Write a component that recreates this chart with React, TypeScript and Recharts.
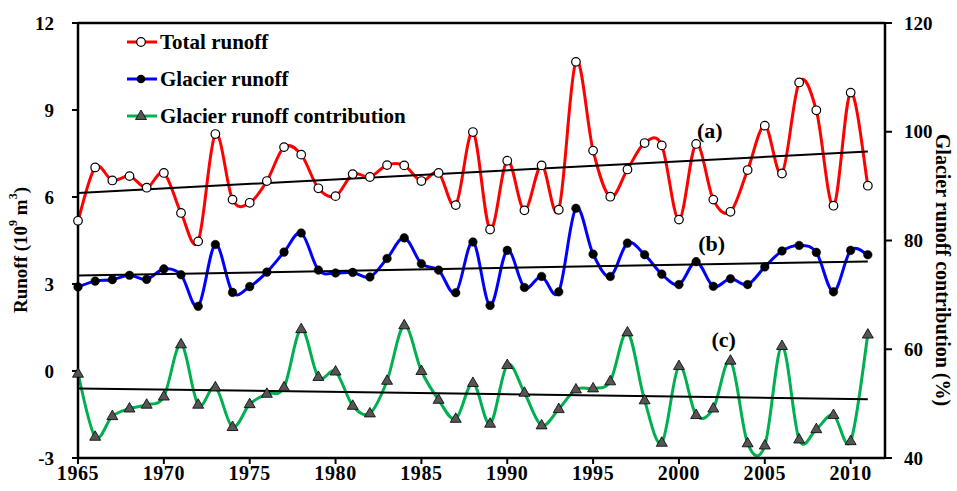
import React from "react";
import {
  LineChart,
  Line,
  XAxis,
  YAxis,
  ReferenceLine,
  ReferenceDot,
  Legend
} from "recharts";

const years = [
  1965, 1966, 1967, 1968, 1969, 1970, 1971, 1972, 1973, 1974, 1975, 1976,
  1977, 1978, 1979, 1980, 1981, 1982, 1983, 1984, 1985, 1986, 1987, 1988,
  1989, 1990, 1991, 1992, 1993, 1994, 1995, 1996, 1997, 1998, 1999, 2000,
  2001, 2002, 2003, 2004, 2005, 2006, 2007, 2008, 2009, 2010, 2011
];

// 10^9 m3
const totalRunoff = [
  5.18, 7.02, 6.57, 6.72, 6.32, 6.83, 5.45, 4.47, 8.17, 5.91, 5.8, 6.55,
  7.72, 7.46, 6.3, 6.03, 6.79, 6.69, 7.1, 7.09, 6.55, 6.83, 5.72, 8.24,
  4.88, 7.25, 5.54, 7.09, 5.56, 10.66, 7.6, 6.01, 6.95, 7.86, 7.78, 5.22,
  7.83, 5.91, 5.49, 6.93, 8.46, 6.81, 9.95, 8.99, 5.7, 9.6, 6.39
];

const glacierRunoff = [
  2.9, 3.1, 3.15, 3.3, 3.16, 3.52, 3.32, 2.23, 4.36, 2.71, 2.91, 3.41,
  4.1, 4.76, 3.48, 3.38, 3.4, 3.24, 3.88, 4.59, 3.7, 3.48, 2.7, 4.45,
  2.26, 4.16, 2.88, 3.26, 2.73, 5.61, 4.03, 3.26, 4.41, 4.01, 3.34, 2.98,
  3.77, 2.92, 3.18, 2.98, 3.59, 4.14, 4.33, 4.09, 2.73, 4.16, 4.01
];

// %
const glacierContribution = [
  55.5, 43.9, 47.7, 49.1, 49.8, 51.3, 60.9, 49.8, 53.0, 45.7, 49.9, 51.8,
  53.0, 63.7, 54.9, 55.9, 49.6, 48.2, 54.2, 64.4, 56.0, 50.7, 47.2, 53.8,
  46.3, 57.1, 52.0, 46.0, 49.0, 52.6, 52.8, 54.1, 63.1, 50.6, 42.8, 56.9,
  47.9, 49.1, 57.9, 42.7, 42.3, 60.6, 43.4, 45.3, 47.9, 43.1, 62.7
];

const trendYears = [1965, 2011];
const totalTrend = [6.14, 7.57];
const glacierTrend = [3.29, 3.78];
const contributionTrend = [52.8, 50.8];

const xTicks = [1965, 1970, 1975, 1980, 1985, 1990, 1995, 2000, 2005, 2010];
const leftTicks = [-3, 0, 3, 6, 9, 12];
const rightTicks = [40, 60, 80, 100, 120];

const seriesNames = ["Total runoff", "Glacier runoff", "Glacier runoff contribution"];

const data = years.map((year, i) => ({
  year,
  total: totalRunoff[i],
  glacier: glacierRunoff[i],
  contribution: glacierContribution[i]
}));

const totalTrendData = trendYears.map((year, i) => ({ year, v: totalTrend[i] }));
const glacierTrendData = trendYears.map((year, i) => ({ year, v: glacierTrend[i] }));
const contributionTrendData = trendYears.map((year, i) => ({ year, v: contributionTrend[i] }));

const FONT = "Liberation Serif, Times New Roman, serif";

// smooth line like the spreadsheet one (catmull-rom)
const smoothCurve = (context: any) => {
  let pts: number[][] = [];
  return {
    areaStart() {},
    areaEnd() {},
    lineStart() {
      pts = [];
    },
    point(x: number, y: number) {
      pts.push([+x, +y]);
    },
    lineEnd() {
      if (!pts.length) return;
      context.moveTo(pts[0][0], pts[0][1]);
      for (let i = 0; i < pts.length - 1; i++) {
        const p0 = pts[i - 1] || pts[i];
        const p1 = pts[i];
        const p2 = pts[i + 1];
        const p3 = pts[i + 2] || p2;
        const t = 1 / 6;
        context.bezierCurveTo(
          p1[0] + (p2[0] - p0[0]) * t,
          p1[1] + (p2[1] - p0[1]) * t,
          p2[0] - (p3[0] - p1[0]) * t,
          p2[1] - (p3[1] - p1[1]) * t,
          p2[0],
          p2[1]
        );
      }
    }
  };
};

const OpenDot = (props: any) => {
  const { cx, cy, index } = props;
  if (cx == null || cy == null) return null;
  return <circle key={"o" + index} cx={cx} cy={cy} r={4.3} fill="#fff" stroke="#000" strokeWidth={1.2} />;
};

const FilledDot = (props: any) => {
  const { cx, cy, index } = props;
  if (cx == null || cy == null) return null;
  return <circle key={"f" + index} cx={cx} cy={cy} r={4.3} fill="#000" stroke="#000" strokeWidth={0.5} />;
};

const TriangleDot = (props: any) => {
  const { cx, cy, index } = props;
  if (cx == null || cy == null) return null;
  return (
    <polygon
      key={"t" + index}
      points={`${cx},${cy - 6} ${cx - 5.5},${cy + 3.5} ${cx + 5.5},${cy + 3.5}`}
      fill="#555"
      stroke="#000"
      strokeWidth={0.8}
    />
  );
};

const LegendBox = () => {
  const rows = [
    { color: "#ff0000", dot: "open" },
    { color: "#0000ff", dot: "filled" },
    { color: "#00b050", dot: "tri" }
  ];
  return (
    <svg width={320} height={110}>
      {rows.map((r, i) => {
        const y = 17 + i * 37;
        return (
          <g key={i}>
            <line x1={7} x2={37} y1={y} y2={y} stroke={r.color} strokeWidth={3} />
            {r.dot === "open" && <circle cx={21} cy={y} r={4.3} fill="#fff" stroke="#000" strokeWidth={1.2} />}
            {r.dot === "filled" && <circle cx={21} cy={y} r={4.3} fill="#000" />}
            {r.dot === "tri" && (
              <polygon points={`21,${y - 6} 15.5,${y + 3.5} 26.5,${y + 3.5}`} fill="#555" stroke="#000" strokeWidth={0.8} />
            )}
            <text x={40} y={y + 7} style={{ fontFamily: FONT }} fontWeight="bold" fontSize={21} fill="#000">
              {seriesNames[i]}
            </text>
          </g>
        );
      })}
    </svg>
  );
};

const LeftTitle = (props: any) => {
  const { viewBox } = props;
  const x = viewBox.x + 2;
  const y = 250;
  return (
    <text
      x={x}
      y={y}
      transform={`rotate(-90, ${x}, ${y})`}
      textAnchor="middle"
      dominantBaseline="central"
      style={{ fontFamily: FONT }}
      fontWeight="bold"
      fontSize={19}
      fill="#000"
    >
      Runoff (10
      <tspan dy={-7} fontSize={12}>9</tspan>
      <tspan dy={7}> m</tspan>
      <tspan dy={-7} fontSize={12}>3</tspan>
      <tspan dy={7}>)</tspan>
    </text>
  );
};

const RightTitle = (props: any) => {
  const { viewBox } = props;
  const x = viewBox.x + viewBox.width - 2;
  const y = 270;
  return (
    <text
      x={x}
      y={y}
      transform={`rotate(90, ${x}, ${y})`}
      textAnchor="middle"
      dominantBaseline="central"
      style={{ fontFamily: FONT }}
      fontWeight="bold"
      fontSize={20}
      fill="#000"
    >
      Glacier runoff contribution (%)
    </text>
  );
};

const tickStyle = { fill: "#000", fontFamily: FONT, fontWeight: "bold", fontSize: 19 };
const labelStyle = { fill: "#000", fontFamily: FONT, fontWeight: "bold", fontSize: 22 };

export default function App() {
  return (
    <div style={{ position: "absolute", left: 0, top: 0, background: "#fff" }}>
      <LineChart width={957} height={491} data={data} margin={{ top: 23, right: 12, bottom: 3, left: 18 }}>
        <XAxis
          dataKey="year"
          type="number"
          domain={[1965, 2012]}
          ticks={xTicks}
          interval={0}
          allowDecimals={false}
          height={30}
          tickSize={6}
          tickMargin={2}
          axisLine={{ stroke: "#000", strokeWidth: 2.5 }}
          tickLine={{ stroke: "#000", strokeWidth: 2 }}
          tick={{ ...tickStyle, fontSize: 20, letterSpacing: 0.6 }}
        />
        <YAxis
          yAxisId="left"
          domain={[-3, 12]}
          ticks={leftTicks}
          width={60}
          tickSize={6}
          tickMargin={18}
          axisLine={{ stroke: "#000", strokeWidth: 2.5 }}
          tickLine={{ stroke: "#000", strokeWidth: 2 }}
          tick={tickStyle}
          label={<LeftTitle />}
        />
        <YAxis
          yAxisId="right"
          orientation="right"
          domain={[40, 120]}
          ticks={rightTicks}
          width={60}
          tickSize={7}
          tickMargin={12}
          axisLine={{ stroke: "#000", strokeWidth: 2.5 }}
          tickLine={{ stroke: "#000", strokeWidth: 2 }}
          tick={tickStyle}
          label={<RightTitle />}
        />
        <ReferenceLine yAxisId="left" y={12} stroke="#000" strokeWidth={2.5} />
        <Line
          yAxisId="left"
          dataKey="total"
          type={smoothCurve as any}
          stroke="#ff0000"
          strokeWidth={3}
          dot={OpenDot}
          activeDot={false}
          isAnimationActive={false}
        />
        <Line
          yAxisId="left"
          dataKey="glacier"
          type={smoothCurve as any}
          stroke="#0000ff"
          strokeWidth={3}
          dot={FilledDot}
          activeDot={false}
          isAnimationActive={false}
        />
        <Line
          yAxisId="right"
          dataKey="contribution"
          type={smoothCurve as any}
          stroke="#00b050"
          strokeWidth={3}
          dot={TriangleDot}
          activeDot={false}
          isAnimationActive={false}
        />
        <Line yAxisId="left" data={totalTrendData} dataKey="v" type="linear" stroke="#000" strokeWidth={2} dot={false} activeDot={false} isAnimationActive={false} />
        <Line yAxisId="left" data={glacierTrendData} dataKey="v" type="linear" stroke="#000" strokeWidth={2} dot={false} activeDot={false} isAnimationActive={false} />
        <Line yAxisId="right" data={contributionTrendData} dataKey="v" type="linear" stroke="#000" strokeWidth={2} dot={false} activeDot={false} isAnimationActive={false} />
        <ReferenceDot yAxisId="left" x={2001.8} y={8.32} r={1} fill="none" stroke="none" label={{ value: "(a)", position: "center", ...labelStyle }} />
        <ReferenceDot yAxisId="left" x={2001.9} y={4.42} r={1} fill="none" stroke="none" label={{ value: "(b)", position: "center", ...labelStyle }} />
        <ReferenceDot yAxisId="left" x={2002.6} y={1.08} r={1} fill="none" stroke="none" label={{ value: "(c)", position: "center", ...labelStyle }} />
        <Legend
          layout="vertical"
          align="center"
          verticalAlign="middle"
          content={<LegendBox />}
          wrapperStyle={{ left: 120, top: 25, width: 320, height: 110 }}
        />
      </LineChart>
    </div>
  );
}
